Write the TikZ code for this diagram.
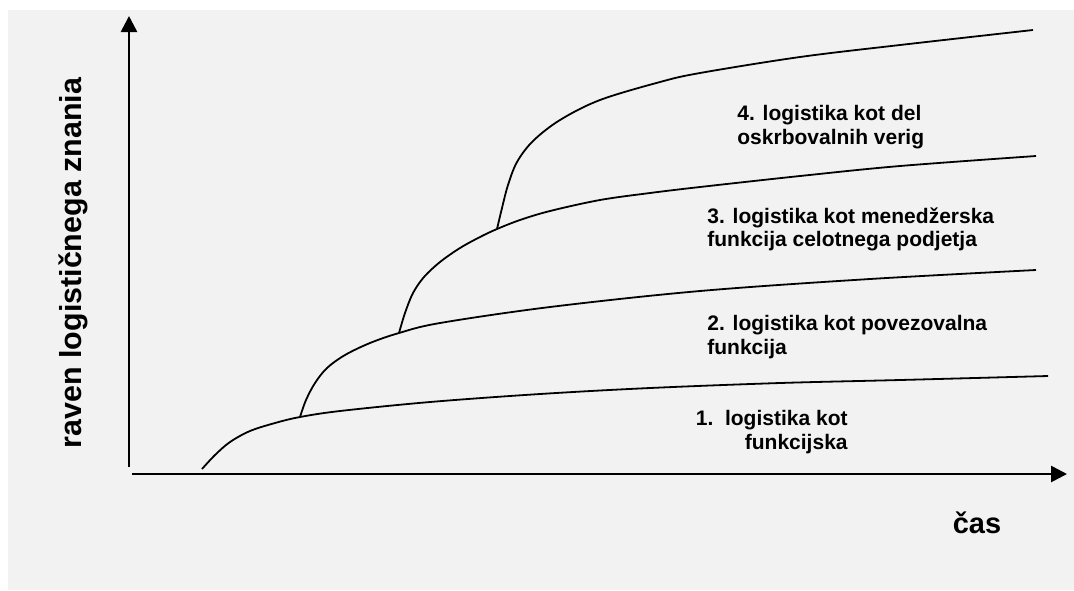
\documentclass[tikz,border=0pt]{standalone}
\usepackage{fontspec}
\setmainfont{Liberation Sans}
\usetikzlibrary{arrows.meta}
\definecolor{panelgray}{RGB}{242,242,242}
\tikzset{font=\bfseries}
\tikzset{
	phase/.style={align=left, font=\fontsize{10.5pt}{11.9pt}\selectfont\bfseries},
	axislabel/.style={font=\fontsize{14.5pt}{17pt}\selectfont\bfseries},
	curve/.style={line width=0.9pt},
}

\begin{document}
\begin{tikzpicture}[x=0.5pt, y=-0.5pt]
	\useasboundingbox (0,0) rectangle (1074,590);
	\fill [panelgray] (8,10) rectangle (1074,590);
	\begin{scope}
		\tikzstyle{every node}=[inner sep=0pt]
		% axes
		\coordinate (ybot) at (129,467);
		\coordinate (ytop) at (129,16);
		\coordinate (xbeg) at (132,474);
		\coordinate (xend) at (1067,474);
		\draw [->, >={Triangle[length=8pt, width=8pt]}, line width=1.3pt] (ybot) to (ytop);
		\draw [->, >={Triangle[length=8pt, width=8pt]}, line width=1.3pt] (xbeg) to (xend);

		% where each phase branches off
		\coordinate (b1) at (202,469);
		\coordinate (b2) at (300,417);
		\coordinate (b3) at (399,333);
		\coordinate (b4) at (497,229);

		\draw [curve] plot [smooth, tension=0.55] coordinates {(b1) (215,455) (230,442) (250,431) (275,423) (b2) (340,411) (430,402) (540,394) (650,388) (780,383) (900,380) (1048,376)};
		\draw [curve] plot [smooth, tension=0.55] coordinates {(b2) (306,400) (315,383) (327,368) (345,355) (370,343) (b3) (440,323) (550,307) (700,291) (870,279) (1036,270)};
		\draw [curve] plot [smooth, tension=0.55] coordinates {(b3) (405,313) (413,293) (424,277) (440,262) (460,248) (480,237) (b4) (520,220) (550,211) (600,200) (650,193) (700,187) (800,176) (900,166) (1036,156)};
		\draw [curve] plot [smooth, tension=0.55] coordinates {(b4) (502,208) (508,185) (517,162) (533,141) (560,120) (600,100) (660,82) (700,73) (800,57) (900,45) (1033,30)};

		\node [phase, anchor=north west] (p4) at (737,105) {4. logistika kot del\\oskrbovalnih verig};
		\node [phase, anchor=north west] (p3) at (707,207) {3. logistika kot menedžerska\\funkcija celotnega podjetja};
		\node [phase, anchor=north west] (p2) at (707,315) {2. logistika kot povezovalna\\funkcija};
		\node [phase, anchor=north east, align=right] (p1) at (848,410) {1.\ \ logistika kot\\funkcijska};

		\node [axislabel, font=\fontsize{15.2pt}{18pt}\selectfont\bfseries, rotate=90] (ylab) at (73,263) {raven logističnega znania};
		\node [axislabel] (xlab) at (977,523) {čas};
	\end{scope}
\end{tikzpicture}
\end{document}
